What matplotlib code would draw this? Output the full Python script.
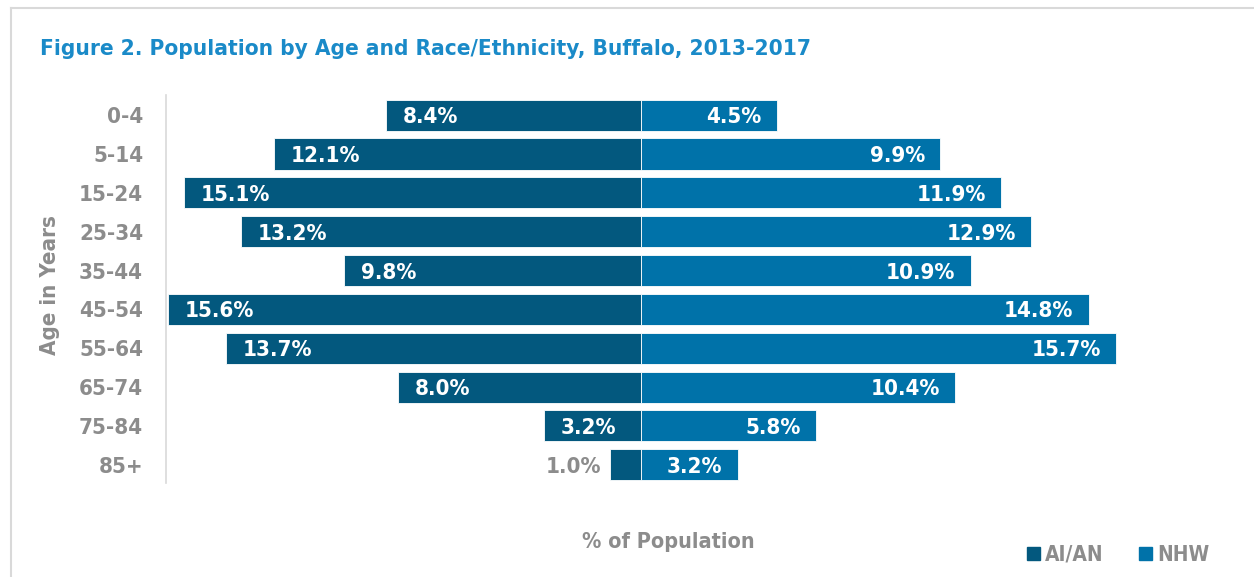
import matplotlib.pyplot as plt
from matplotlib.lines import Line2D
from matplotlib.patches import Rectangle

ages = ['0-4', '5-14', '15-24', '25-34', '35-44', '45-54', '55-64', '65-74', '75-84', '85+']
aian = [8.4, 12.1, 15.1, 13.2, 9.8, 15.6, 13.7, 8.0, 3.2, 1.0]
nhw = [4.5, 9.9, 11.9, 12.9, 10.9, 14.8, 15.7, 10.4, 5.8, 3.2]

plt.rcParams['font.family'] = ['DejaVu Sans']
plt.rcParams['font.stretch'] = 'condensed'
plt.rcParams['font.weight'] = 'bold'

dark = '#03587e'
blue = '#0072a9'
grey = '#8c8c8c'
fs = 16

fig = plt.figure(figsize=(12.54, 5.77), dpi=100)
ax = fig.add_axes([166 / 1254, 1 - 483 / 577, 1068 / 1254, 388 / 577])

y = list(range(len(ages)))
ax.barh(y, [-v for v in aian], height=0.8, color=dark, edgecolor='white', linewidth=0.6)
ax.barh(y, nhw, height=0.8, color=blue, edgecolor='white', linewidth=0.6)

for i, v in enumerate(aian):
    if v >= 2:
        ax.text(-v + 0.55, i, f'{v:.1f}%', ha='left', va='center_baseline', color='white',
                fontsize=fs, fontweight='bold')
    else:
        ax.text(-v - 0.3, i, f'{v:.1f}%', ha='right', va='center_baseline', color=grey,
                fontsize=fs, fontweight='bold')
for i, v in enumerate(nhw):
    ax.text(v - 0.5, i, f'{v:.1f}%', ha='right', va='center_baseline', color='white',
            fontsize=fs, fontweight='bold')

ax.set_xlim(-15.68, 19.6)
ax.set_ylim(9.47, -0.52)
ax.set_yticks(y)
ax.set_yticklabels(ages, fontsize=fs, color=grey, fontweight='bold', va='center_baseline')
ax.set_xticks([])
ax.tick_params(axis='y', length=0, pad=16.5)
for s in ['top', 'right', 'bottom']:
    ax.spines[s].set_visible(False)
ax.spines['left'].set_color('#d9d9d9')
ax.spines['left'].set_linewidth(1.2)

fig.text(50 / 1254, 1 - 285 / 577, 'Age in Years', rotation=90, ha='center', va='center',
         color=grey, fontsize=fs, fontweight='bold')
fig.text(668 / 1254, 1 - 540 / 577, '% of Population', ha='center', va='center_baseline',
         color=grey, fontsize=15.5, fontweight='bold')
fig.text(40 / 1254, 1 - 47 / 577, 'Figure 2. Population by Age and Race/Ethnicity, Buffalo, 2013-2017',
         ha='left', va='center_baseline', color='#1a8ac8', fontsize=16.2, fontweight='bold')

# legend
for x0, c, lab in [(1027, dark, 'AI/AN'), (1139, blue, 'NHW')]:
    fig.patches.append(Rectangle((x0 / 1254, 1 - 560 / 577), 13 / 1254, 13 / 577,
                                 transform=fig.transFigure, color=c))
    fig.text((x0 + 18) / 1254, 1 - 553 / 577, lab, ha='left', va='center_baseline',
             color=grey, fontsize=15, fontweight='bold')

# frame border
fig.add_artist(Line2D([11 / 1254, 11 / 1254], [0, 1 - 8 / 577], transform=fig.transFigure,
                      color='#d9d9d9', linewidth=1.5))
fig.add_artist(Line2D([11 / 1254, 1], [1 - 8 / 577, 1 - 8 / 577], transform=fig.transFigure,
                      color='#d9d9d9', linewidth=1.5))

fig.savefig('out.png', dpi=100)
